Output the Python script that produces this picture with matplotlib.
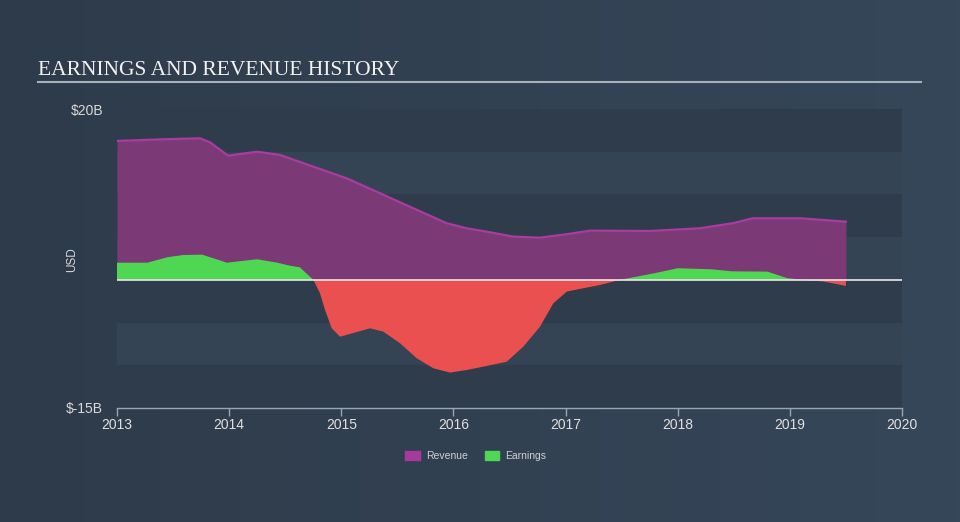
import matplotlib
matplotlib.use("Agg")
import matplotlib.pyplot as plt
import matplotlib.patches as mpatches
from matplotlib.colors import LinearSegmentedColormap
import numpy as np

# ---- data (USD billions) ----
rev_t = [2013.0, 2013.4, 2013.74, 2013.83, 2013.99, 2014.25, 2014.454, 2014.75,
         2015.048, 2015.345, 2015.642, 2015.94, 2016.118, 2016.297, 2016.534,
         2016.772, 2017.01, 2017.218, 2017.75, 2018.2, 2018.49, 2018.67, 2019.09,
         2019.5]
rev_v = [16.26, 16.45, 16.57, 16.1, 14.54, 15.0, 14.62, 13.25,
         11.89, 10.14, 8.38, 6.63, 6.04, 5.64, 5.06,
         4.94, 5.34, 5.76, 5.72, 6.04, 6.63, 7.21, 7.21,
         6.81]

earn_t = [2013.0, 2013.27, 2013.45, 2013.59, 2013.76, 2013.98, 2014.25, 2014.43,
          2014.54, 2014.63, 2014.751, 2014.81, 2014.855, 2014.915, 2014.989,
          2015.078, 2015.256, 2015.375, 2015.524, 2015.673, 2015.821, 2015.97,
          2016.118, 2016.267, 2016.475, 2016.623, 2016.772, 2016.891, 2017.01,
          2017.158, 2017.307, 2017.485, 2017.79, 2018.0, 2018.3, 2018.48, 2018.8,
          2018.98, 2019.13, 2019.3, 2019.5]
earn_v = [2.01, 2.01, 2.65, 2.91, 2.95, 2.01, 2.41, 2.01,
          1.66, 1.47, 0.0, -1.57, -3.52, -5.67, -6.65,
          -6.33, -5.67, -6.06, -7.42, -9.18, -10.35, -10.86,
          -10.55, -10.16, -9.58, -7.82, -5.48, -2.74, -1.38,
          -0.98, -0.60, 0.0, 0.77, 1.36, 1.24, 1.0, 0.96,
          0.19, 0.0, -0.19, -0.71]

x_ticks = [2013, 2014, 2015, 2016, 2017, 2018, 2019, 2020]
y_tick_vals = [-15, 20]
y_tick_labels = ["$-15B", "$20B"]
title = "EARNINGS AND REVENUE HISTORY"

SANS = ["Liberation Sans", "DejaVu Sans"]

# ---- figure ----
W, H = 960, 522
fig = plt.figure(figsize=(W / 100, H / 100), dpi=100)
fig.patch.set_facecolor("#323f4f")

# subtle background gradient
bg = fig.add_axes([0, 0, 1, 1], zorder=-10)
grad = np.linspace(0, 1, 256)[None, :]
cmap_bg = LinearSegmentedColormap.from_list("bg", ["#2e3b4a", "#36475a"])
bg.imshow(grad, aspect="auto", cmap=cmap_bg, extent=[0, 1, 0, 1])
bg.axis("off")

ax = fig.add_axes([117 / W, 1 - 408 / H, (902 - 117) / W, (408 - 109) / H])
ax.set_xlim(2013, 2020)
ax.set_ylim(-15, 20)
ax.patch.set_alpha(0)

# alternating bands
dark = "#2e3c4c"
light = "#344454"
for i, lo in enumerate(range(-15, 20, 5)):
    ax.axhspan(lo, lo + 5, color=dark if i % 2 == 0 else light, lw=0, zorder=0)

rt = np.array(rev_t); rv = np.array(rev_v)
et = np.array(earn_t); ev = np.array(earn_v)

ax.fill_between(rt, 0, rv, color="#7b3a75", lw=0, zorder=2)
ax.plot(rt, rv, color="#a83c9f", lw=1.6, zorder=3, solid_joinstyle="round")

ax.fill_between(et, 0, ev, where=ev >= 0, interpolate=True, color="#4fd653", lw=0, zorder=4)
ax.fill_between(et, 0, ev, where=ev <= 0, interpolate=True, color="#eb5050", lw=0, zorder=4)

ax.axhline(0, color="#e8e8e8", lw=1.2, zorder=5)

for s in ["top", "right", "left"]:
    ax.spines[s].set_visible(False)
ax.spines["bottom"].set_color("#9aa6b2")
ax.spines["bottom"].set_linewidth(1)

ax.set_xticks(x_ticks)
ax.set_xticklabels([str(t) for t in x_ticks], family=SANS)
ax.tick_params(axis="x", colors="#9aa6b2", length=6, width=1, labelsize=10,
               labelcolor="#e0e0e0", pad=1.5)
ax.set_yticks(y_tick_vals)
ax.set_yticklabels(y_tick_labels, family=SANS)
ax.tick_params(axis="y", length=0, labelsize=10, labelcolor="#d8d8d8", pad=10)

fig.text(72 / W, 1 - 260 / H, "USD", rotation=90, family=SANS, fontsize=8.5,
         color="#d8d8d8", ha="center", va="center")

# title and underline
fig.text(38 / W, 1 - 75 / H, title, family="Liberation Serif", fontsize=15.5,
         color="#f2f2f2", ha="left", va="baseline")
fig.add_artist(plt.Line2D([38 / W, 921 / W], [1 - 82 / H, 1 - 82 / H],
                          color="#a8b0b8", lw=1.5))

# legend
handles = [mpatches.Patch(color="#a53a9c", label="Revenue"),
           mpatches.Patch(color="#4fd653", label="Earnings")]
leg = fig.legend(handles=handles, loc="center", bbox_to_anchor=(476 / W, 1 - 456 / H),
                 ncol=2, frameon=False, prop={"family": SANS, "size": 7.5},
                 handlelength=1.4, handleheight=1.0, columnspacing=1.6,
                 handletextpad=0.6)
for t in leg.get_texts():
    t.set_color("#d0d0d0")

fig.savefig("out.png", dpi=100, facecolor=fig.get_facecolor())
